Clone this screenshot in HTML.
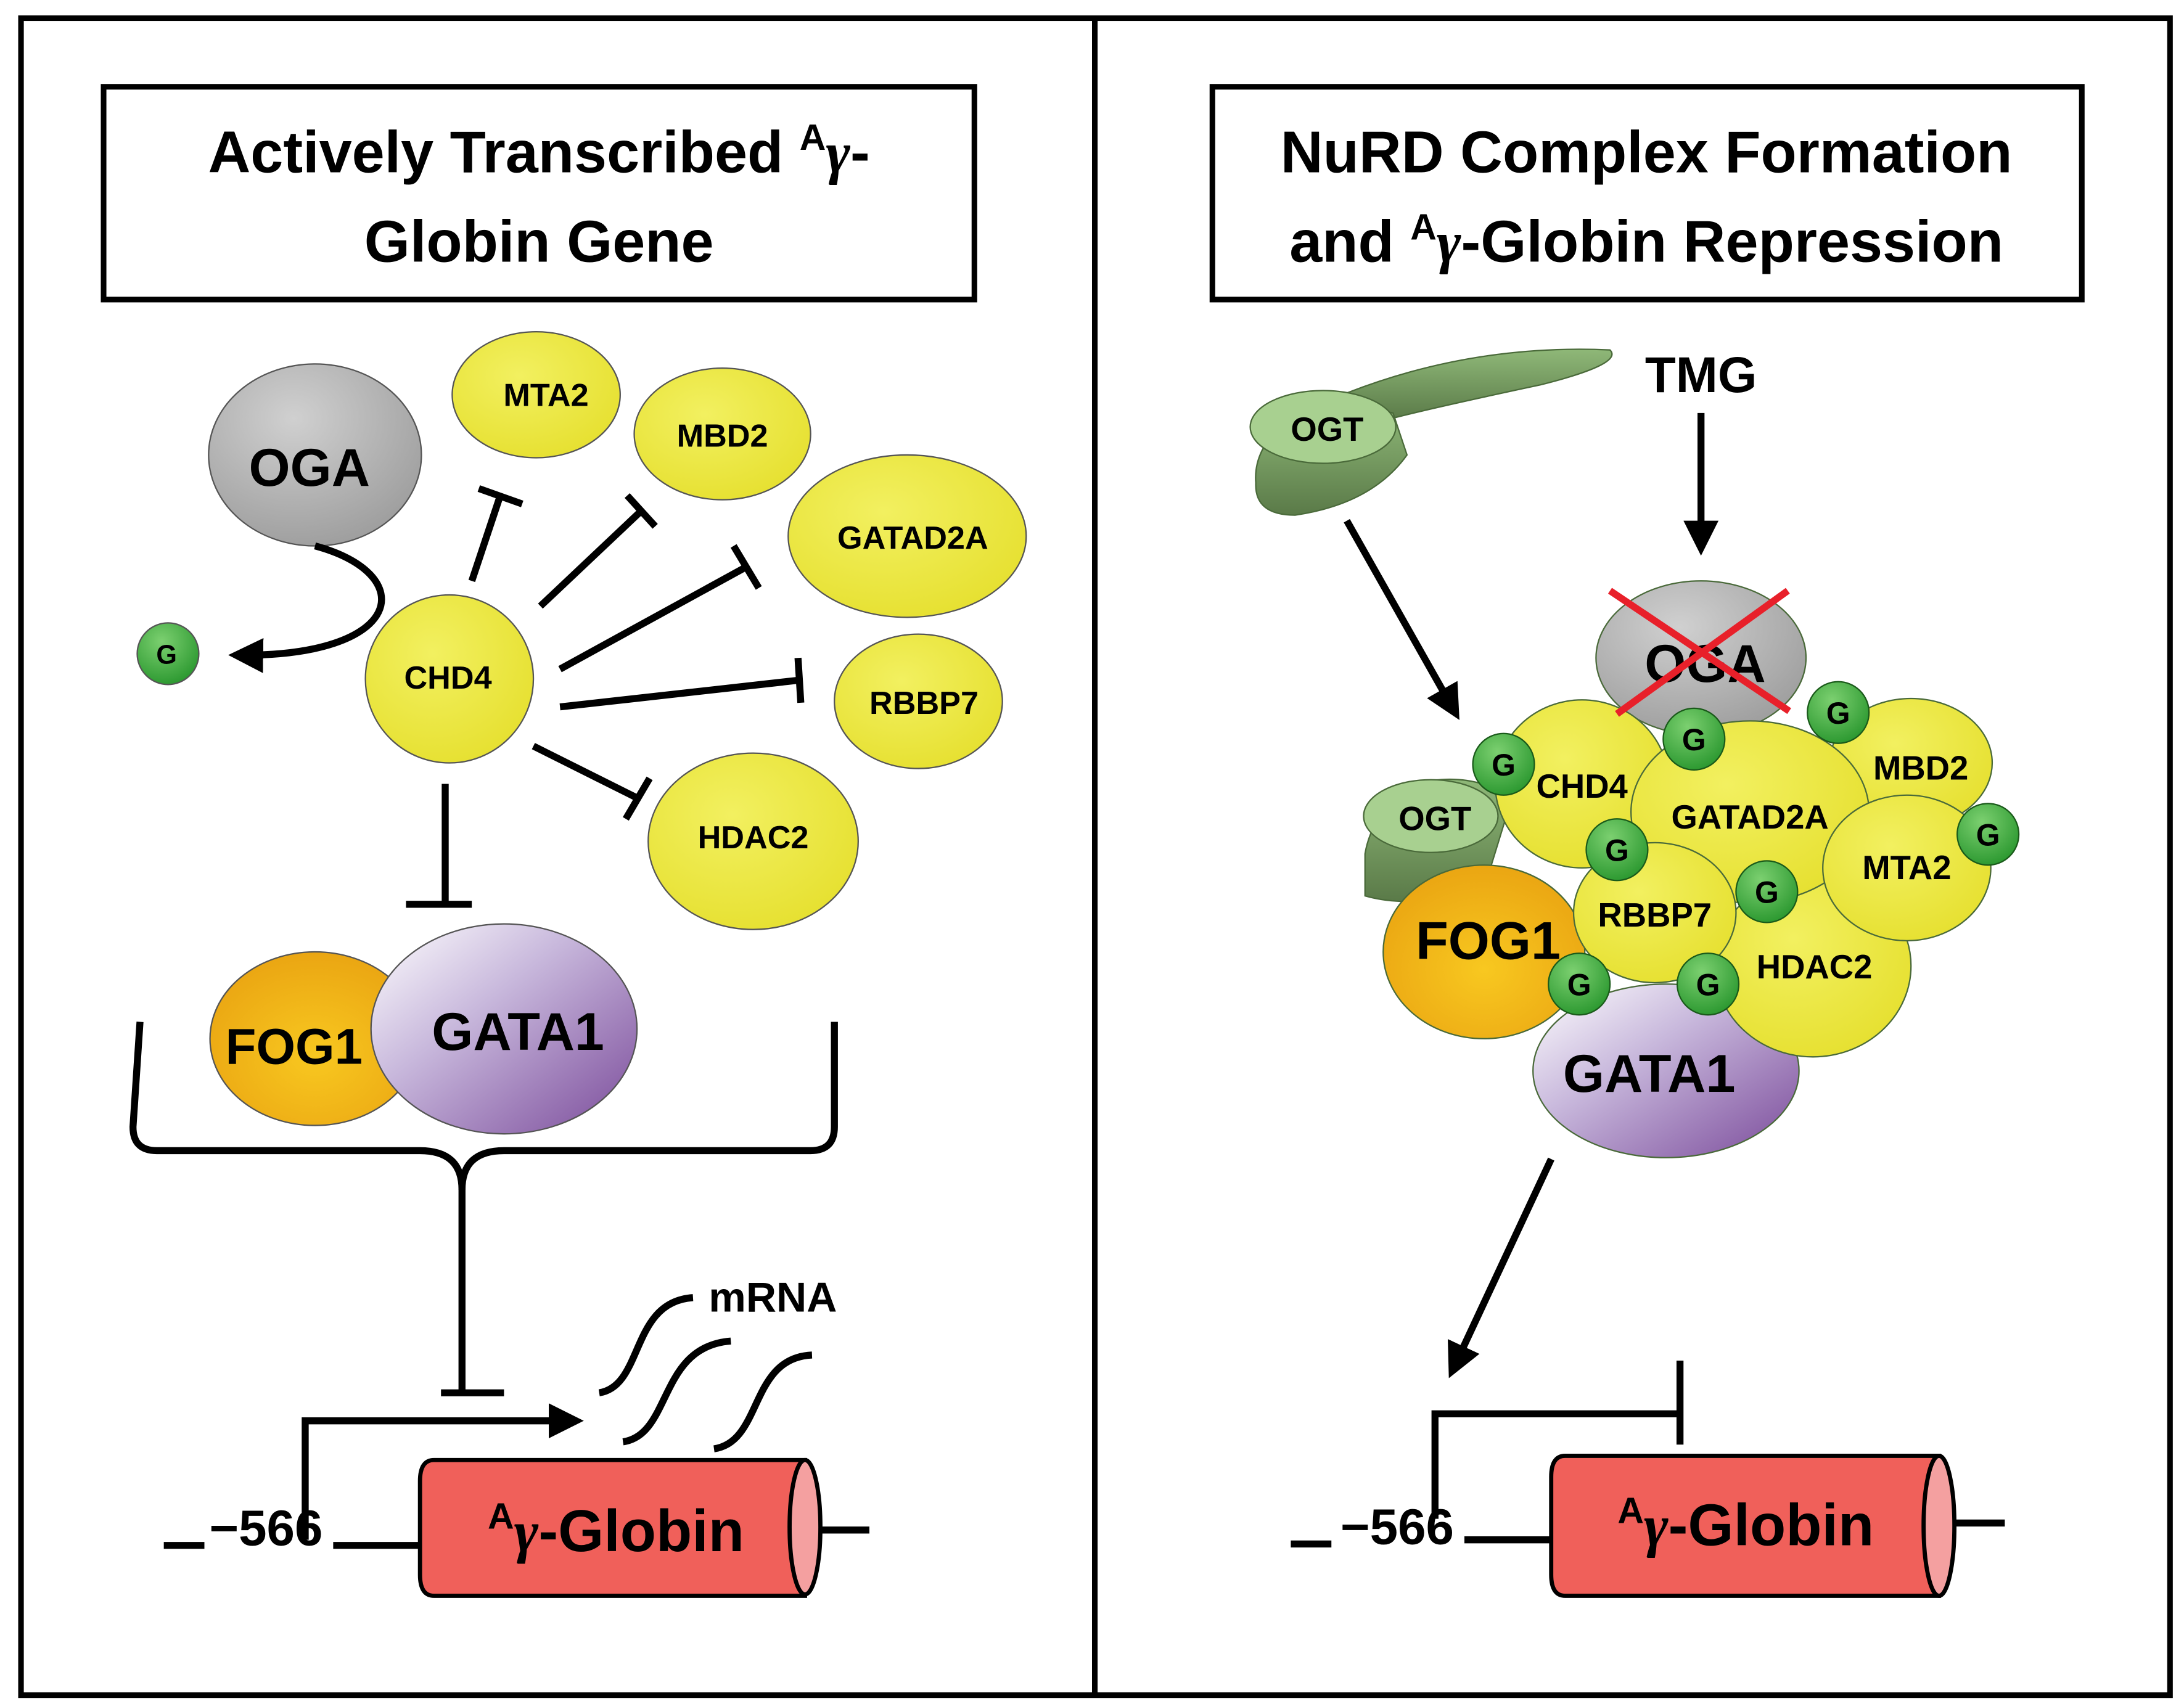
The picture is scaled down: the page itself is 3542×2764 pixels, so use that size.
<!DOCTYPE html>
<html><head><meta charset="utf-8"><style>html,body{margin:0;padding:0;background:#fff}svg{display:block}</style></head><body>
<svg width="3542" height="2764" viewBox="0 0 1560 1217.3" preserveAspectRatio="none" xmlns="http://www.w3.org/2000/svg" font-family="Liberation Sans, sans-serif" font-weight="bold">
<defs>
<radialGradient id="y" cx="0.4" cy="0.35" r="0.7"><stop offset="0" stop-color="#f2f060"/><stop offset="1" stop-color="#e6e030"/></radialGradient>
<radialGradient id="gr" cx="0.4" cy="0.3" r="0.8"><stop offset="0" stop-color="#d0d0d0"/><stop offset="1" stop-color="#999"/></radialGradient>
<radialGradient id="g" cx="0.4" cy="0.3" r="0.7"><stop offset="0" stop-color="#7cd070"/><stop offset="1" stop-color="#2e9a32"/></radialGradient>
<radialGradient id="o" cx="0.5" cy="0.6" r="0.7"><stop offset="0" stop-color="#f8c820"/><stop offset="1" stop-color="#e8a010"/></radialGradient>
<linearGradient id="p" x1="0" y1="0" x2="1" y2="1"><stop offset="0" stop-color="#ffffff"/><stop offset="0.4" stop-color="#c8b8dc"/><stop offset="1" stop-color="#7a4a9a"/></linearGradient>
<linearGradient id="lg" x1="0" y1="0" x2="0" y2="1"><stop offset="0" stop-color="#8fb878"/><stop offset="1" stop-color="#5a7a48"/></linearGradient>
<marker id="ah" viewBox="0 0 10 10" refX="8" refY="5" markerWidth="5" markerHeight="5" orient="auto"><path d="M0,0 L10,5 L0,10 z" fill="#000"/></marker>
</defs>
<rect x="15" y="13" width="1535" height="1198" fill="none" stroke="#000" stroke-width="4"/>
<line x1="782" y1="13" x2="782" y2="1211" stroke="#000" stroke-width="4"/>
<rect x="74" y="62" width="622" height="152" fill="#fff" stroke="#000" stroke-width="4"/>
<rect x="866" y="62" width="621" height="152" fill="#fff" stroke="#000" stroke-width="4"/>
<g font-size="42" text-anchor="middle" fill="#000">
<text x="385" y="123">Actively Transcribed <tspan font-size="26" dy="-16">A</tspan><tspan dy="16" font-family="Liberation Serif, serif" font-style="italic">γ</tspan>-</text>
<text x="385" y="187">Globin Gene</text>
<text x="1176" y="123">NuRD Complex Formation</text>
<text x="1176" y="187">and <tspan font-size="26" dy="-16">A</tspan><tspan dy="16" font-family="Liberation Serif, serif" font-style="italic">γ</tspan>-Globin Repression</text>
</g>
<!-- left -->
<g stroke="#555" stroke-width="1">
<ellipse cx="225" cy="325" rx="76" ry="65" fill="url(#gr)"/>
<ellipse cx="383" cy="282" rx="60" ry="45" fill="url(#y)"/>
<ellipse cx="516" cy="310" rx="63" ry="47" fill="url(#y)"/>
<ellipse cx="648" cy="383" rx="85" ry="58" fill="url(#y)"/>
<ellipse cx="656" cy="501" rx="60" ry="48" fill="url(#y)"/>
<ellipse cx="538" cy="601" rx="75" ry="63" fill="url(#y)"/>
<ellipse cx="321" cy="485" rx="60" ry="60" fill="url(#y)"/>
<circle cx="120" cy="467" r="22" fill="url(#g)"/>
<ellipse cx="225" cy="742" rx="75" ry="62" fill="url(#o)"/>
<ellipse cx="360" cy="735" rx="95" ry="75" fill="url(#p)"/>
</g>
<g fill="#000" text-anchor="middle">
<text x="221" y="347" font-size="38">OGA</text>
<text x="390" y="290" font-size="23">MTA2</text>
<text x="516" y="319" font-size="23">MBD2</text>
<text x="652" y="392" font-size="23">GATAD2A</text>
<text x="660" y="510" font-size="23">RBBP7</text>
<text x="538" y="606" font-size="23">HDAC2</text>
<text x="320" y="492" font-size="23">CHD4</text>
<text x="119" y="474" font-size="19">G</text>
<text x="210" y="760" font-size="36">FOG1</text>
<text x="370" y="750" font-size="38">GATA1</text>
</g>
<g stroke="#000" stroke-width="5" fill="none">
<line x1="337" y1="415" x2="357" y2="355"/><line x1="342" y1="349" x2="373" y2="360"/>
<line x1="386" y1="433" x2="458" y2="365"/><line x1="448" y1="354" x2="468" y2="376"/>
<line x1="400" y1="478" x2="533" y2="405"/><line x1="524" y1="390" x2="542" y2="420"/>
<line x1="400" y1="505" x2="570" y2="486"/><line x1="570" y1="470" x2="572" y2="502"/>
<line x1="381" y1="533" x2="455" y2="570"/><line x1="464" y1="556" x2="447" y2="585"/>
<line x1="318" y1="560" x2="318" y2="646"/><line x1="290" y1="646" x2="337" y2="646"/>
<path d="M225,390 C300,410 290,470 168,468" marker-end="url(#ah)"/>
<path d="M100,730 L95,805 Q95,822 112,822 L300,822 Q330,822 330,850 L330,995"/>
<path d="M596,730 L596,805 Q596,822 579,822 L360,822 Q330,822 330,850"/>
<line x1="315" y1="995" x2="360" y2="995"/>
<path d="M218,1100 L218,1015 L412,1015" marker-end="url(#ah)"/>
<path d="M428,995 C460,990 450,930 495,927"/>
<path d="M445,1030 C480,1025 470,962 522,958"/>
<path d="M510,1035 C545,1030 535,970 580,968"/>
<line x1="117" y1="1104" x2="146" y2="1104"/>
<line x1="238" y1="1104" x2="300" y2="1104"/>
<line x1="585" y1="1093" x2="621" y2="1093"/>
</g>
<text x="552" y="937" font-size="30" text-anchor="middle">mRNA</text>
<text x="190" y="1104" font-size="36" text-anchor="middle">−566</text>
<path d="M310,1043 L575,1043 L575,1140 L310,1140 Q300,1140 300,1125 L300,1058 Q300,1043 310,1043 z" fill="#f0605a" stroke="#000" stroke-width="3"/>
<ellipse cx="575" cy="1091" rx="11" ry="48" fill="#f4a0a0" stroke="#000" stroke-width="3"/>
<text x="440" y="1108" font-size="42" text-anchor="middle"><tspan font-size="26" dy="-16">A</tspan><tspan dy="16" font-family="Liberation Serif, serif" font-style="italic">γ</tspan>-Globin</text>
<!-- right -->
<g stroke="#4a6a3a" stroke-width="1">
<path d="M940,290 Q1040,245 1150,250 Q1160,260 1100,275 Q1020,292 990,300 z" fill="url(#lg)"/>
<path d="M897,345 Q895,320 920,300 Q950,285 995,295 L1005,325 Q980,360 925,368 Q896,368 897,345 z" fill="url(#lg)"/>
<ellipse cx="945" cy="305" rx="52" ry="26" fill="#a8d090"/>
<path d="M975,610 Q980,580 1010,560 Q1050,550 1080,570 L1060,635 Q1010,650 975,640 z" fill="url(#lg)"/>
<ellipse cx="1022" cy="583" rx="48" ry="26" fill="#a8d090"/>
<ellipse cx="1215" cy="470" rx="75" ry="55" fill="url(#gr)"/>
<ellipse cx="1060" cy="680" rx="72" ry="62" fill="url(#o)"/>
<ellipse cx="1190" cy="765" rx="95" ry="62" fill="url(#p)"/>
<ellipse cx="1130" cy="560" rx="62" ry="60" fill="url(#y)"/>
<ellipse cx="1365" cy="545" rx="58" ry="46" fill="url(#y)"/>
<ellipse cx="1295" cy="690" rx="70" ry="65" fill="url(#y)"/>
<ellipse cx="1250" cy="580" rx="85" ry="65" fill="url(#y)"/>
<ellipse cx="1362" cy="620" rx="60" ry="52" fill="url(#y)"/>
<ellipse cx="1182" cy="652" rx="58" ry="50" fill="url(#y)"/>
<g fill="url(#g)" stroke="#1a5a1a">
<circle cx="1074" cy="546" r="22"/><circle cx="1210" cy="528" r="22"/><circle cx="1313" cy="509" r="22"/><circle cx="1420" cy="596" r="22"/>
<circle cx="1155" cy="607" r="22"/><circle cx="1262" cy="637" r="22"/><circle cx="1128" cy="703" r="22"/><circle cx="1220" cy="703" r="22"/>
</g>
</g>
<g fill="#000" text-anchor="middle">
<text x="948" y="315" font-size="24">OGT</text>
<text x="1025" y="593" font-size="24">OGT</text>
<text x="1215" y="280" font-size="36">TMG</text>
<text x="1218" y="487" font-size="38">OGA</text>
<text x="1063" y="685" font-size="38">FOG1</text>
<text x="1178" y="780" font-size="38">GATA1</text>
<text x="1130" y="570" font-size="24">CHD4</text>
<text x="1250" y="592" font-size="24">GATAD2A</text>
<text x="1372" y="557" font-size="24">MBD2</text>
<text x="1362" y="628" font-size="24">MTA2</text>
<text x="1182" y="662" font-size="24">RBBP7</text>
<text x="1296" y="699" font-size="24">HDAC2</text>
<g font-size="22"><text x="1074" y="554">G</text><text x="1210" y="536">G</text><text x="1313" y="517">G</text><text x="1420" y="604">G</text><text x="1155" y="615">G</text><text x="1262" y="645">G</text><text x="1128" y="711">G</text><text x="1220" y="711">G</text></g>
</g>
<g stroke="#e8202a" stroke-width="5"><line x1="1150" y1="422" x2="1278" y2="508"/><line x1="1277" y1="422" x2="1155" y2="510"/></g>
<g stroke="#000" stroke-width="5" fill="none">
<line x1="1215" y1="295" x2="1215" y2="392" marker-end="url(#ah)"/>
<line x1="962" y1="372" x2="1040" y2="510" marker-end="url(#ah)"/>
<line x1="1108" y1="828" x2="1037" y2="980" marker-end="url(#ah)"/>
<path d="M1025,1085 L1025,1010 L1200,1010"/><line x1="1200" y1="972" x2="1200" y2="1032"/>
<line x1="922" y1="1103" x2="951" y2="1103"/>
<line x1="1046" y1="1100" x2="1108" y2="1100"/>
<line x1="1395" y1="1088" x2="1432" y2="1088"/>
</g>
<text x="998" y="1103" font-size="36" text-anchor="middle">−566</text>
<path d="M1118,1040 L1385,1040 L1385,1140 L1118,1140 Q1108,1140 1108,1125 L1108,1055 Q1108,1040 1118,1040 z" fill="#f0605a" stroke="#000" stroke-width="3"/>
<ellipse cx="1385" cy="1090" rx="11" ry="50" fill="#f4a0a0" stroke="#000" stroke-width="3"/>
<text x="1247" y="1104" font-size="42" text-anchor="middle"><tspan font-size="26" dy="-16">A</tspan><tspan dy="16" font-family="Liberation Serif, serif" font-style="italic">γ</tspan>-Globin</text>
</svg>
</body></html>
